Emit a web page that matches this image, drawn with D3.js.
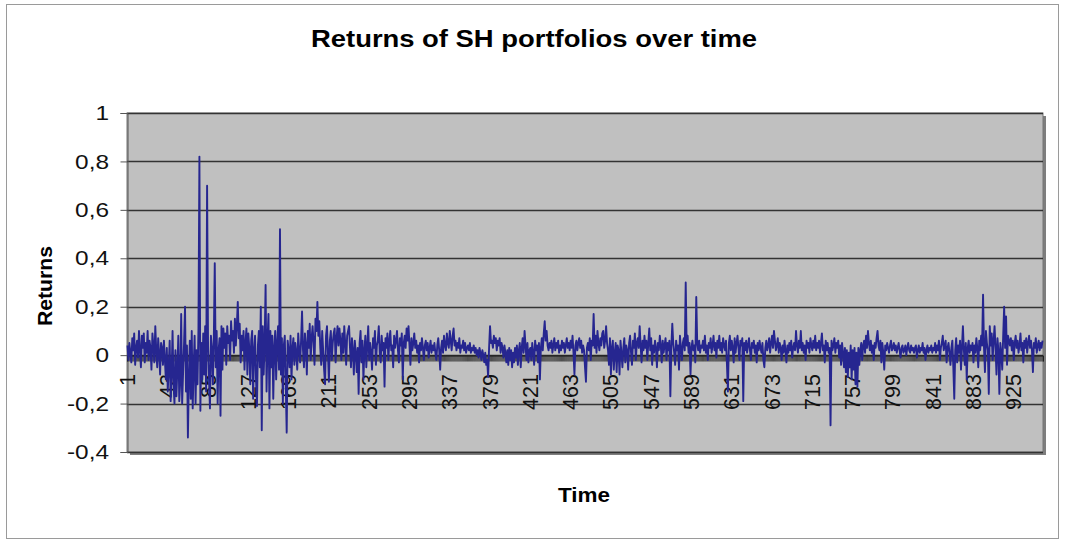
<!DOCTYPE html>
<html>
<head>
<meta charset="utf-8">
<script src="https://cdn.jsdelivr.net/npm/d3@7"></script>
<style>
  body { margin: 0; background: #fff; }
  svg { display: block; font-family: "Liberation Sans", Arial, sans-serif; }
</style>
</head>
<body>
<div id="chart"></div>
<script>
// Returns of SH portfolios, periods 1..955
const returns = [
  0.04,-0.02,0.05,0.01,-0.03,0.07,0.02,0.09,-0.04,0.03,0.06,-0.01,0.1,0.02,-0.05,0.08,0.03,0.09,-0.03,0.05,
  0.01,0.1,-0.02,0.06,0.03,-0.06,0.09,0.04,-0.03,0.12,0.02,-0.05,0.07,0.01,-0.08,0.05,0.03,-0.04,0.06,-0.02,
  -0.1,0.03,-0.15,-0.05,0.06,-0.19,-0.08,0.1,-0.12,-0.2,0.02,-0.17,-0.06,0.08,-0.19,-0.11,0.17,-0.2,-0.07,0.05,
  0.2,-0.15,0.04,-0.34,-0.1,0.06,-0.18,0.1,-0.22,-0.05,0.08,-0.2,0.02,-0.12,0.11,0.82,-0.23,0.05,-0.1,0.09,
  -0.08,0.12,-0.15,0.7,0.04,-0.1,-0.22,0.08,0.03,-0.12,0.06,0.38,-0.05,0.1,-0.2,0.02,0.07,-0.25,0.12,-0.06,
  0.11,0.03,0.09,-0.04,0.12,0.05,0.08,-0.02,0.14,0.06,0.1,0.01,0.15,0.04,0.12,0.22,0.07,0.13,-0.03,0.08,
  0.02,0.1,-0.06,0.05,0.11,-0.08,0.09,0.03,-0.12,0.06,0.1,-0.18,0.02,0.08,-0.1,-0.21,0.04,0.1,-0.05,0.2,
  -0.31,0.12,-0.08,0.05,0.29,-0.15,0.06,0.17,-0.22,0.1,-0.05,0.08,-0.18,0.03,0.1,-0.1,0.05,0.12,-0.06,0.52,
  -0.08,0.07,-0.2,0.04,0.08,-0.12,-0.32,0.06,0.02,-0.05,0.08,-0.1,0.03,0.07,-0.04,0.05,0.01,-0.06,0.09,0.02,
  -0.03,0.06,0.18,0.02,-0.05,0.09,0.04,-0.08,0.1,0.03,0.13,-0.02,0.07,0.12,0.05,-0.04,0.15,0.1,0.22,0.08,
  0.14,0.03,-0.04,0.1,0.02,-0.06,-0.12,0.08,0.12,0.01,-0.11,0.06,0.1,-0.02,0.05,0.09,0.11,-0.03,0.07,0.12,
  0.04,0.11,0.06,-0.02,0.09,0.01,0.12,0.05,-0.04,0.08,0.1,0.12,0.03,-0.05,0.07,0.02,-0.08,0.06,0.01,-0.07,
  0.03,-0.16,0.05,0.1,-0.03,0.06,-0.1,0.02,0.08,-0.05,0.04,0.12,-0.02,0.05,0.01,-0.06,0.07,0.03,0.1,-0.04,
  0.04,0.06,0.12,0.01,-0.03,0.08,0.02,0.05,-0.13,0.07,0.03,0.09,-0.02,0.06,0.1,0.02,0.04,-0.05,0.08,0.03,
  0.06,0.1,0.02,-0.03,0.07,0.04,0.09,-0.1,0.05,0.08,0.03,0.11,0.06,0.12,0.04,-0.04,0.07,0.02,0.05,0.09,
  0.03,0.06,0.01,0.04,-0.03,0.05,0.02,0.07,0.03,-0.02,0.04,0.06,0.02,0.05,-0.01,0.03,0.06,0.01,0.04,0.02,
  0.05,0.01,-0.02,0.04,0.07,0.02,-0.06,0.03,0.06,0.01,0.08,0.04,0.02,0.09,0.05,0.03,0.1,0.06,0.02,0.08,
  0.11,0.04,0.06,0.02,0.05,0.03,0.07,0.01,0.04,0.03,0.06,0.02,0.05,0.01,0.03,0.04,0.02,0.05,0.01,0.03,
  0.02,0.04,0.01,0.03,0,0.02,-0.01,0.03,0.01,-0.02,0.02,0,-0.03,0.01,-0.04,-0.02,-0.09,0.03,0.12,0.05,
  0.06,0.03,0.08,0.05,0.07,0.02,0.06,0.04,0.07,0.01,0.05,0.03,-0.01,0.04,0.01,-0.03,0.02,-0.04,0.03,-0.02,
  0.02,-0.05,0.01,-0.03,0.03,-0.01,0.04,-0.04,0.02,0.05,-0.05,0.03,0.07,0.01,0.1,0.04,-0.02,0.05,-0.03,0.02,
  0.03,-0.02,0.05,0.01,-0.04,0.06,0.02,0.04,-0.03,0.05,-0.1,0.03,0.07,0.02,0.09,0.14,0.06,0.1,0.04,0.02,
  0.05,0.03,0.06,0.01,0.04,0.07,0.02,0.05,0.03,0.06,0.01,0.04,0.02,0.06,0.03,0.05,0.01,0.04,0.07,0.03,
  0.05,0.02,0.06,0.03,0.08,0.01,-0.08,0.04,0.06,0.02,0.05,0.07,0.03,0.06,0.01,0.04,0.02,-0.05,-0.11,0.03,
  0.05,0.02,0.07,-0.02,0.06,0.04,0.17,0.03,0.08,0.01,0.1,0.05,0.02,0.07,0.04,0.09,0.1,0.03,0.06,0.12,
  0.05,0.02,-0.04,0.07,-0.08,0.03,0.06,-0.06,0.01,0.05,-0.07,0.04,0.02,-0.08,0.06,0.01,-0.05,0.03,0.07,-0.03,
  0.04,0.02,-0.06,0.05,0.08,0.01,-0.04,0.06,0.03,0.09,-0.02,0.05,0.07,0.03,0.12,0.04,-0.03,0.06,0.02,0.08,
  0.03,0.06,-0.02,0.05,0.11,0.02,0.07,-0.04,0.04,0.01,0.06,0.03,-0.05,0.05,0.02,0.08,0.04,-0.03,0.06,0.01,
  0.04,0.07,-0.02,0.05,0.02,0.06,-0.17,0.03,0.13,0.05,0.01,-0.04,0.06,0.02,0.04,-0.06,0.08,0.03,-0.02,0.05,
  0.07,0.02,0.3,0.04,0.08,0.01,0.05,-0.08,0.03,0.06,0.02,0.04,-0.03,0.24,0.05,0.02,0.06,0.01,0.04,0.03,
  0.06,0.02,0.08,0.01,0.04,-0.02,0.05,0.03,0.07,0.01,0.04,0.08,0.02,0.05,-0.01,0.06,0.03,0.08,0.02,0.05,
  0.01,0.07,0.04,0.02,0.06,-0.04,-0.15,0.05,0.08,0.02,0.06,0.03,-0.03,0.07,0.01,0.05,0.08,0.03,-0.02,0.06,
  0.04,0.07,-0.19,0.05,0.02,0.06,0.01,0.04,0.07,0.02,-0.02,0.05,0.03,0.06,0.01,0.04,-0.03,0.05,0.02,0.06,
  0.03,0.01,0.05,-0.02,-0.05,0.03,0.06,0.02,0.04,0.07,0.01,0.05,0.08,0.03,0.1,0.06,0.02,0.04,0.07,0.01,
  0.05,0.03,-0.02,0.04,0.01,0.06,0.02,-0.03,0.04,0.01,0.05,0.02,0.06,-0.01,0.03,0.05,0.02,0.1,0.04,0.01,
  0.06,0.03,0.1,0.02,0.05,0.01,0.04,-0.02,0.06,0.03,0.05,0.01,0.07,0.04,0.02,0.06,0.03,0.08,0.02,0.05,
  0.03,0.06,0.01,0.05,0.09,0.02,0.04,-0.03,0.06,0.02,0.05,0.01,0.03,-0.29,0.06,0.02,0.04,0.07,0.01,0.05,
  0.03,0.06,-0.01,0.04,-0.04,0.05,0.01,-0.05,0.03,-0.07,0.02,-0.09,0.01,-0.05,0.04,-0.1,0.02,-0.06,0.03,-0.12,
  0.01,-0.13,0.03,-0.04,0.02,0.05,-0.02,0.04,0.06,0.01,0.08,0.03,0.1,0.05,0.02,0.06,0.01,0.04,-0.02,0.05,
  0.03,0.07,0.1,0.04,0.02,0.06,-0.03,0.05,0.01,-0.06,0.04,0.02,0.05,0.03,0.01,0.04,0.06,0.02,0.03,0.05,
  0.02,0.04,0.01,0.03,0.05,0.02,-0.01,0.03,0.04,0.01,0.02,0.04,0,0.03,0.05,0.02,0.01,0.04,0.02,0.03,
  0.01,0.03,0.04,-0.01,0.02,0.04,0.01,0.03,0.02,0.05,0.01,0.03,-0.02,0.02,0.04,0.01,0.03,0.02,0.04,0.01,
  0.03,0.02,0.05,0.01,0.04,0.02,0.06,-0.02,0.03,0.05,0.08,0.02,0.04,0.06,-0.03,0.03,0.05,0.01,-0.04,0.03,
  0.06,-0.05,-0.18,0.02,0.07,-0.03,0.04,0.01,0.06,-0.06,0.03,0.12,0.02,-0.04,0.05,-0.1,0.03,0.06,0.01,0.04,
  0.02,0.05,-0.03,0.04,0.01,0.07,0.03,-0.05,0.06,0.02,0.08,0.04,0.25,0.03,-0.07,0.1,0.05,0.02,-0.16,0.12,
  0.04,0.09,-0.02,0.06,0.12,0.03,-0.08,0.07,0.02,-0.16,0.05,0.01,-0.06,0.08,0.2,0.03,0.16,-0.04,0.08,0.06,
  0.04,0.07,0.02,0.06,-0.02,0.05,0.08,0.03,0.06,0.01,0.04,0.09,0.02,0.05,-0.03,0.06,0.03,0.07,0.01,0.05,
  0.08,0.03,0.06,0.02,-0.07,0.05,0.03,0.07,0.01,0.04,0.06,0.02,0.05,0.03,0.06
];
const periods = returns.map((d, i) => i + 1);
const xTickLabels = d3.range(1, 926, 42);          // 1, 43, 85, ... 925
const yTicks = [-0.4, -0.2, 0, 0.2, 0.4, 0.6, 0.8, 1];
const yTickLabels = ["-0,4", "-0,2", "0", "0,2", "0,4", "0,6", "0,8", "1"];

const W = 1066, H = 545;
const plot = { left: 127, right: 1043, top: 113, bottom: 452 };

const svg = d3.select("#chart").append("svg")
    .attr("width", W)
    .attr("height", H);

// outer chart border
svg.append("rect")
    .attr("x", 6.5).attr("y", 4.5)
    .attr("width", 1052).attr("height", 534)
    .attr("fill", "#fff")
    .attr("stroke", "#9a9a9a");

const x = d3.scalePoint()
    .domain(periods)
    .range([plot.left, plot.right])
    .padding(0.5);

const y = d3.scaleLinear()
    .domain([-0.4, 1])
    .range([plot.bottom, plot.top]);

// plot area shadow + background
svg.append("rect")
    .attr("x", plot.left + 3).attr("y", plot.top + 3)
    .attr("width", plot.right - plot.left).attr("height", plot.bottom - plot.top)
    .attr("fill", "#7e7e7e");
svg.append("rect")
    .attr("x", plot.left).attr("y", plot.top)
    .attr("width", plot.right - plot.left).attr("height", plot.bottom - plot.top)
    .attr("fill", "#c0c0c0")
    .attr("stroke", "#777");

// gridlines
svg.append("g")
    .selectAll("line")
    .data(yTicks)
    .join("line")
    .attr("x1", plot.left).attr("x2", plot.right)
    .attr("y1", d => Math.round(y(d)) + 0.5)
    .attr("y2", d => Math.round(y(d)) + 0.5)
    .attr("stroke", "#333")
    .attr("stroke-width", 1.3);

// y axis
const yAxis = svg.append("g")
    .attr("transform", `translate(${plot.left + 0.5},0)`)
    .call(d3.axisLeft(y).tickValues(yTicks).tickSize(7).tickFormat(""));
yAxis.select(".domain").attr("stroke", "#555");
yAxis.selectAll(".tick line").attr("stroke", "#555");

svg.append("g")
    .selectAll("text")
    .data(yTicks)
    .join("text")
    .attr("transform", d => `translate(109,${y(d)}) scale(1.22,1)`)
    .attr("dy", "0.36em")
    .attr("text-anchor", "end")
    .attr("font-size", 20)
    .attr("fill", "#111")
    .text((d, i) => yTickLabels[i]);

// x axis at zero with a tick for every period
const xAxis = svg.append("g")
    .attr("transform", `translate(0,${Math.round(y(0)) + 0.5})`)
    .call(d3.axisBottom(x).tickValues(periods).tickSize(6).tickFormat(""));
xAxis.select(".domain").attr("stroke", "#222");
xAxis.selectAll(".tick line").attr("stroke", "#222").attr("stroke-width", 0.7);

// rotated category labels
svg.append("g")
    .selectAll("text")
    .data(xTickLabels)
    .join("text")
    .attr("transform", d => `translate(${x(d) + 7.5},${y(0) + 19}) rotate(-90)`)
    .attr("text-anchor", "end")
    .attr("font-size", 21.5)
    .attr("fill", "#111")
    .text(d => d);

// the series
const line = d3.line()
    .x((d, i) => x(periods[i]))
    .y(d => y(d));

svg.append("path")
    .datum(returns)
    .attr("d", line)
    .attr("fill", "none")
    .attr("stroke", "#262690")
    .attr("stroke-width", 1.9)
    .attr("stroke-linejoin", "round");

// titles
svg.append("text")
    .attr("x", 534).attr("y", 47)
    .attr("text-anchor", "middle")
    .attr("font-size", 23)
    .attr("font-weight", "bold")
    .attr("textLength", 446)
    .attr("lengthAdjust", "spacingAndGlyphs")
    .text("Returns of SH portfolios over time");

svg.append("text")
    .attr("transform", "translate(52,286) rotate(-90)")
    .attr("text-anchor", "middle")
    .attr("font-size", 21)
    .attr("font-weight", "bold")
    .attr("textLength", 80)
    .attr("lengthAdjust", "spacingAndGlyphs")
    .text("Returns");

svg.append("text")
    .attr("x", 584).attr("y", 502)
    .attr("text-anchor", "middle")
    .attr("font-size", 21)
    .attr("font-weight", "bold")
    .attr("textLength", 52)
    .attr("lengthAdjust", "spacingAndGlyphs")
    .text("Time");
</script>
</body>
</html>
